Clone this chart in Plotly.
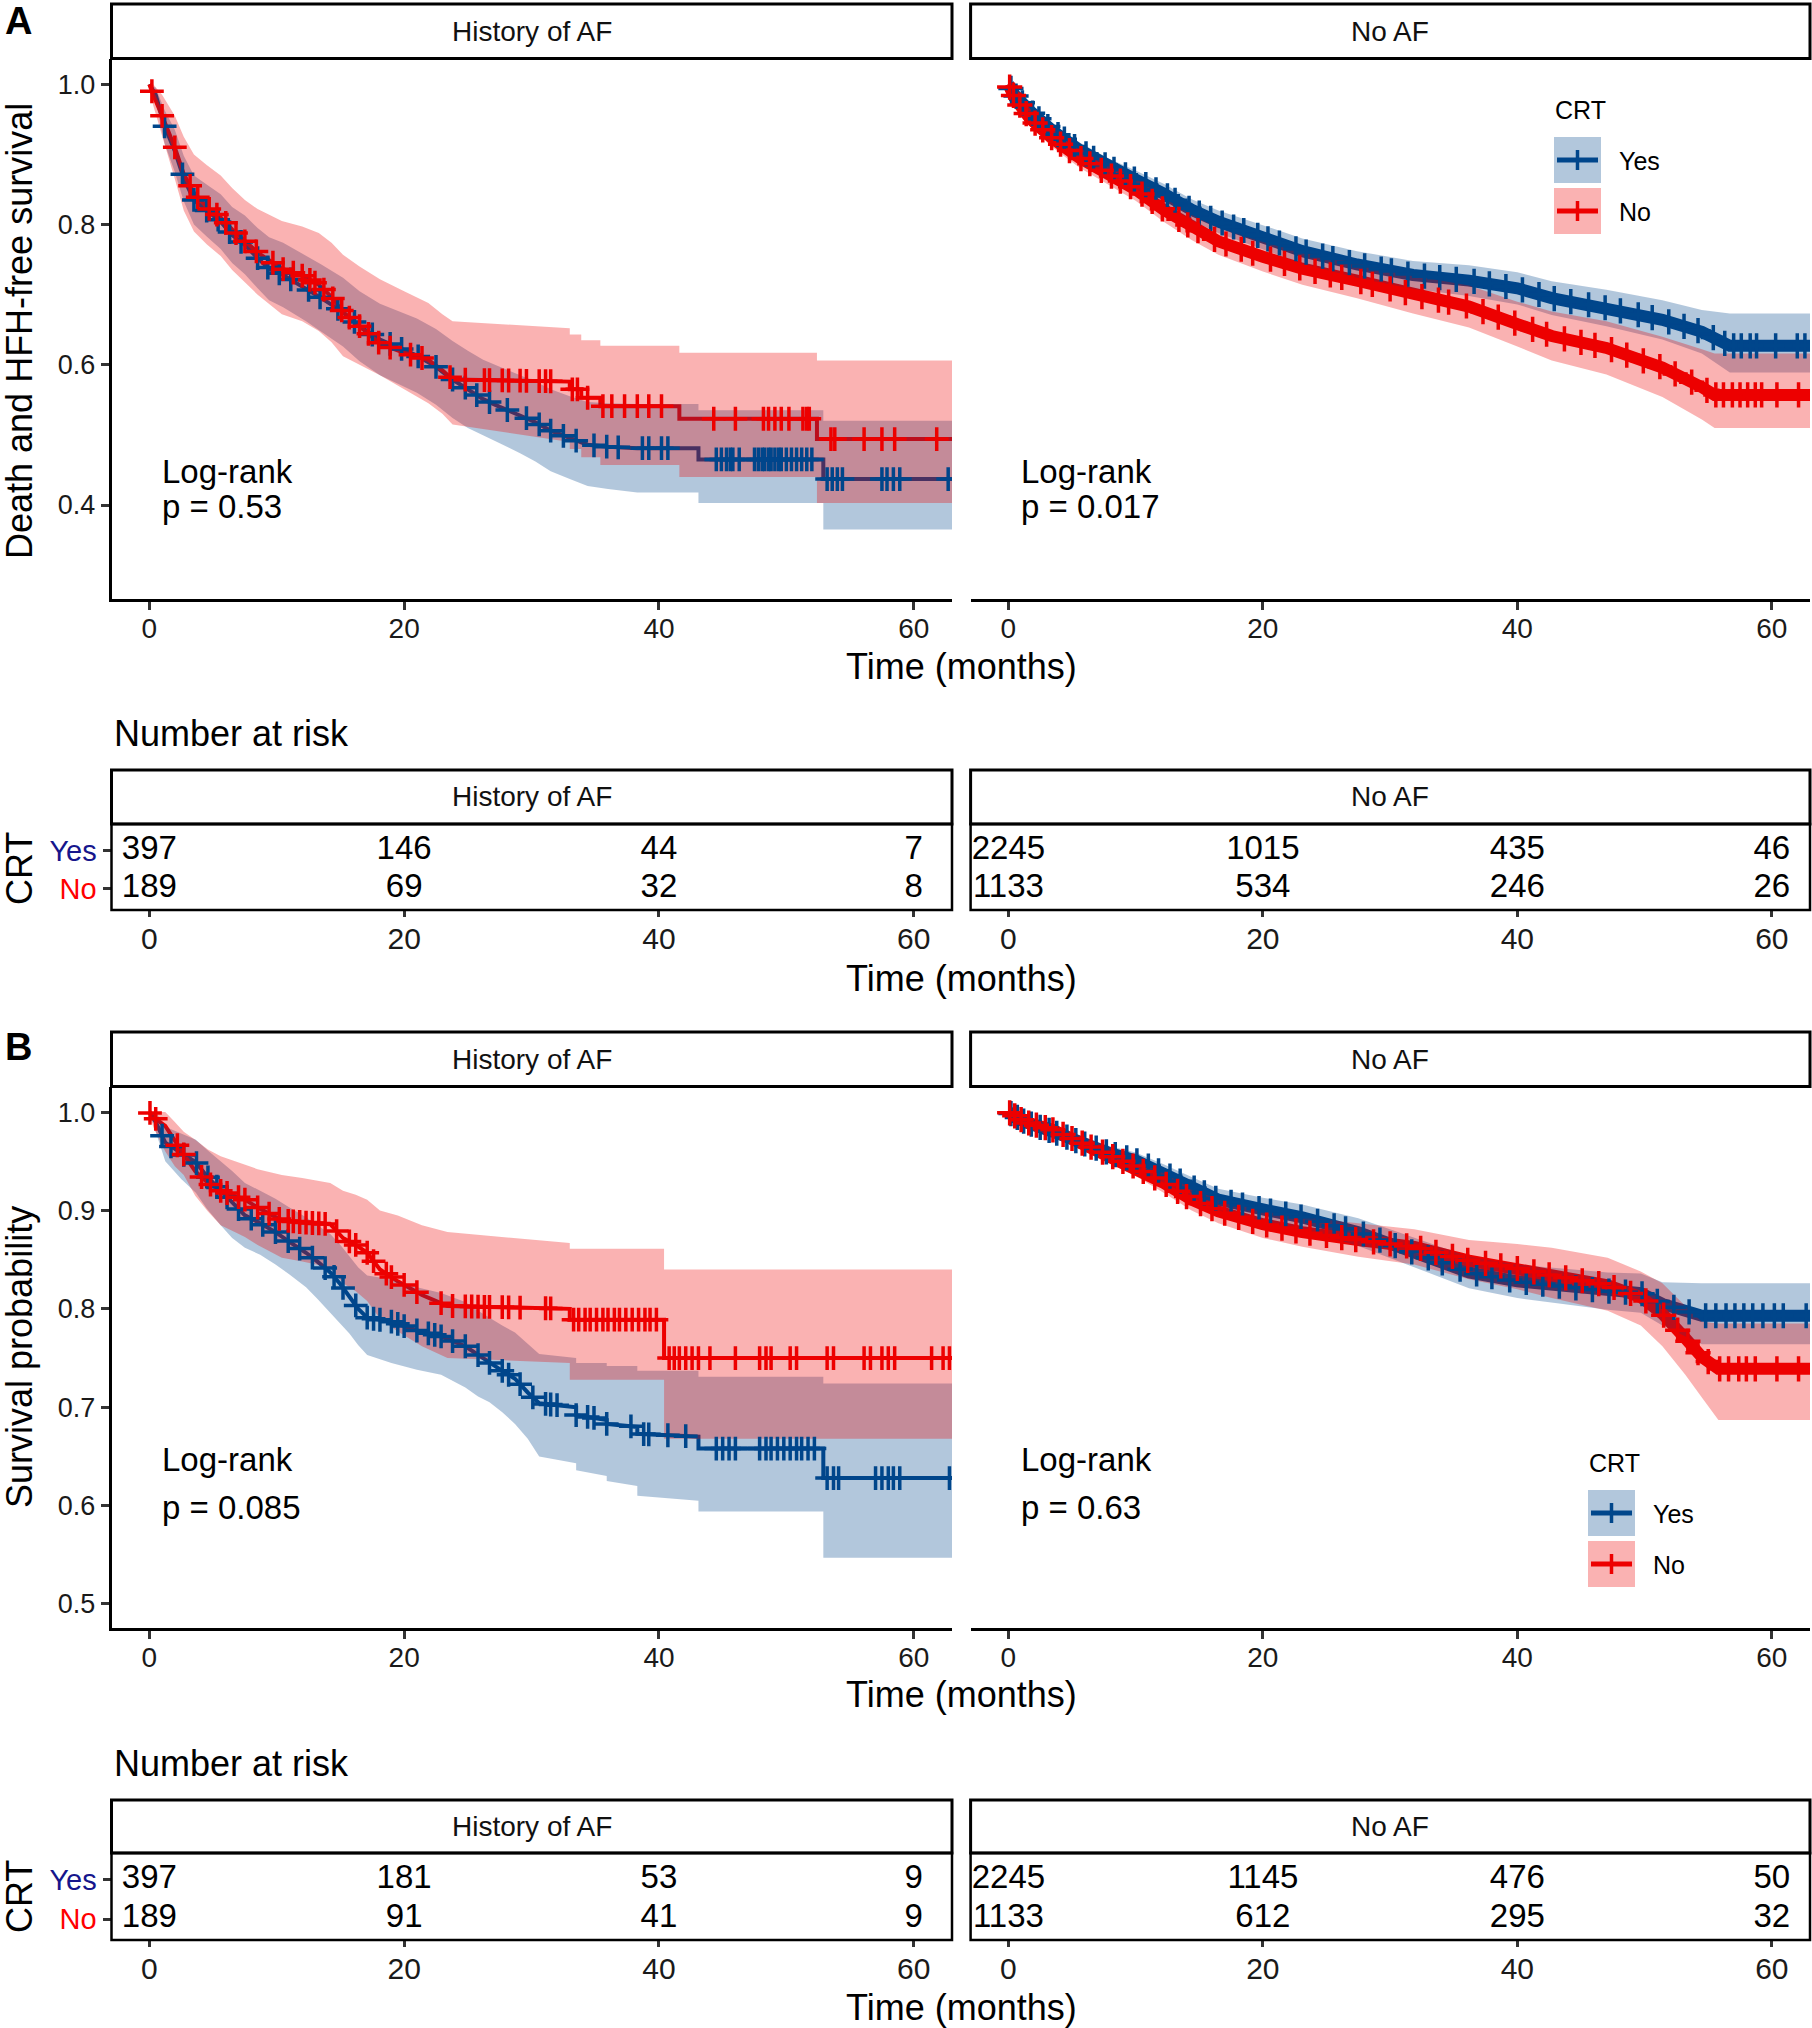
import numpy as np
import plotly.graph_objects as go

W, H = 1812, 2028
FONT = "Liberation Sans, Arial, sans-serif"
BLUE = "#00468B"
RED = "#ED0000"
BLUE_F = "rgba(0,70,139,0.3)"
RED_F = "rgba(237,0,0,0.3)"

# ---------------- DATA ----------------
facets = ["History of AF", "No AF"]
risk_times = [0, 20, 40, 60]
x_ticks = [0, 20, 40, 60]

# Panel A, History of AF -- CRT Yes
A_hist_yes_t = [0, 0.5, 1.2, 2, 2.7, 3.5, 4.5, 5.6, 6.5, 7.5, 8.5, 9.4, 10.5, 12.3, 13.5, 15.2, 16.5, 18.1, 19.5, 21,
                22.5, 23.8, 25, 26.2, 27.5, 29.1, 30.3, 31.5, 33, 34.4, 36, 38.3, 43.1, 43.1, 52.9, 52.9, 65]
A_hist_yes_s = [1.0, 0.985, 0.94, 0.905, 0.866, 0.835, 0.82, 0.804, 0.785, 0.771, 0.752, 0.737, 0.728, 0.709, 0.695,
                0.675, 0.655, 0.636, 0.625, 0.613, 0.597, 0.579, 0.565, 0.551, 0.54, 0.528, 0.518, 0.506, 0.495, 0.486,
                0.483, 0.481, 0.481, 0.465, 0.465, 0.437, 0.437]
A_hist_yes_lo = [1.0, 0.975, 0.915, 0.875, 0.833, 0.80, 0.783, 0.765, 0.745, 0.729, 0.709, 0.692, 0.682, 0.662, 0.647,
                 0.626, 0.605, 0.585, 0.573, 0.56, 0.543, 0.524, 0.51, 0.50, 0.488, 0.474, 0.462, 0.448, 0.437, 0.427,
                 0.423, 0.418, 0.418, 0.403, 0.403, 0.365, 0.365]
A_hist_yes_hi = [1.0, 0.995, 0.963, 0.935, 0.898, 0.87, 0.857, 0.843, 0.825, 0.813, 0.795, 0.782, 0.774, 0.756, 0.743,
                 0.724, 0.705, 0.687, 0.677, 0.666, 0.651, 0.634, 0.62, 0.607, 0.597, 0.585, 0.576, 0.565, 0.555, 0.547,
                 0.545, 0.544, 0.544, 0.535, 0.535, 0.52, 0.52]
A_hist_yes_cens = [1.2, 2.6, 3.5, 4.5, 5.4, 6.3, 7.2, 8.5, 9.3, 10.2, 11.1, 12.5, 13.4, 14.8, 16.1, 17.5, 18.9, 19.8,
                   21.1, 22.5, 23.8, 24.8, 25.7, 26.7, 28.1, 29.6, 30.6, 31.5, 32.5, 33.5, 34.9, 35.9, 36.8, 38.7, 39.2,
                   40.2, 40.7, 44.5, 44.9, 45.3, 45.6, 45.8, 46.3, 47.5, 47.8, 48.1, 48.3, 48.6, 48.8, 49.1, 49.4, 49.6,
                   50.0, 50.4, 50.8, 51.2, 51.6, 52.0, 53.2, 53.6, 54.0, 54.4, 57.5, 57.9, 58.4, 58.9, 62.7]

# Panel A, History of AF -- CRT No
A_hist_no_t = [0, 0.3, 1, 2, 2.7, 3.5, 4.5, 5.6, 6.5, 7.5, 8.5, 10.4, 12, 13.3, 14.3, 15.2, 16.5, 18.1, 20, 21.9, 23,
               23.8, 33.0, 33.0, 33.9, 33.9, 35.4, 35.4, 41.6, 41.6, 52.4, 52.4, 65]
A_hist_no_s = [1.0, 0.985, 0.955, 0.91, 0.872, 0.845, 0.825, 0.81, 0.793, 0.776, 0.76, 0.737, 0.727, 0.714, 0.697,
               0.675, 0.655, 0.63, 0.617, 0.607, 0.592, 0.579, 0.576, 0.565, 0.565, 0.553, 0.553, 0.541, 0.541, 0.523,
               0.523, 0.494, 0.494]
A_hist_no_hi = [1.0, 1.0, 0.985, 0.955, 0.925, 0.9, 0.885, 0.87, 0.852, 0.835, 0.822, 0.805, 0.797, 0.788, 0.774,
                0.757, 0.74, 0.722, 0.705, 0.688, 0.672, 0.662, 0.652, 0.643, 0.643, 0.635, 0.635, 0.627, 0.627, 0.617,
                0.617, 0.606, 0.606]
A_hist_no_lo = [1.0, 0.97, 0.925, 0.865, 0.82, 0.79, 0.772, 0.755, 0.735, 0.718, 0.70, 0.672, 0.662, 0.648, 0.632,
                0.612, 0.60, 0.585, 0.565, 0.545, 0.53, 0.515, 0.49, 0.48, 0.48, 0.468, 0.468, 0.457, 0.457, 0.44,
                0.44, 0.403, 0.403]
A_hist_no_cens = [0.2, 1.0, 2.0, 3.2, 3.8, 4.7, 5.3, 6.0, 6.8, 7.5, 8.4, 9.7, 10.5, 11.3, 12.0, 12.6, 13.0, 13.7, 14.4,
                  15.1, 15.7, 16.5, 17.2, 18.0, 18.9, 20.5, 21.4, 23.6, 24.8, 26.3, 26.7, 27.7, 28.2, 29.1, 29.6, 30.6,
                  31.1, 31.5, 33.2, 33.6, 34.4, 35.6, 36.3, 37.3, 38.3, 39.2, 40.2, 44.3, 46.0, 48.2, 48.6, 49.1, 49.6,
                  50.2, 51.3, 51.6, 51.8, 53.5, 53.8, 56.1, 57.5, 58.5, 61.8]

# Panel A, No AF -- CRT Yes
A_noaf_yes_t = [0, 0.5, 1.7, 3.45, 5.6, 7.8, 10, 12.2, 14.4, 16.5, 20, 23.1, 27.4, 31.8, 36.2, 40, 42.7, 47, 51.4,
                54.5, 56.7, 65]
A_noaf_yes_s = [1.0, 0.985, 0.962, 0.934, 0.906, 0.883, 0.864, 0.844, 0.821, 0.804, 0.782, 0.762, 0.743, 0.728, 0.72,
                0.709, 0.695, 0.681, 0.664, 0.647, 0.627, 0.627]
A_noaf_yes_lo = [1.0, 0.978, 0.953, 0.924, 0.895, 0.871, 0.851, 0.83, 0.806, 0.788, 0.765, 0.744, 0.724, 0.708,
                 0.698, 0.686, 0.671, 0.655, 0.636, 0.616, 0.589, 0.589]
A_noaf_yes_hi = [1.0, 0.992, 0.971, 0.944, 0.917, 0.895, 0.877, 0.858, 0.836, 0.82, 0.799, 0.78, 0.762, 0.748, 0.742,
                 0.732, 0.719, 0.707, 0.692, 0.678, 0.673, 0.673]
A_noaf_yes_cens = [0.2, 0.6, 1.1, 1.9, 2.4, 3.1, 3.9, 4.4, 5.2, 6.1, 6.7, 7.6, 8.3, 9.2, 9.9, 10.8, 11.6, 12.5, 13.1,
                   14.2, 15.0, 15.9, 16.8, 17.7, 18.5, 19.6, 20.4, 21.3, 22.6, 23.4, 24.7, 25.5, 26.8, 28.0, 29.3,
                   30.1, 31.4, 32.7, 33.9, 35.2, 36.6, 37.8, 39.1, 40.4, 41.7, 42.9, 44.2, 45.6, 46.9, 48.1, 49.5,
                   50.6, 51.9, 53.1, 54.2, 55.4, 56.3, 57.0, 57.6, 58.3, 58.8, 60.3, 62.0, 62.6]

# Panel A, No AF -- CRT No
A_noaf_no_t = [0, 0.5, 1.7, 3.45, 5.6, 7.8, 10, 12.2, 14.4, 16.5, 20, 23.1, 27.4, 31.8, 36.2, 40, 42.7, 47, 51.4,
               54.5, 55.5, 65]
A_noaf_no_s = [1.0, 0.98, 0.951, 0.923, 0.895, 0.872, 0.85, 0.821, 0.796, 0.776, 0.754, 0.737, 0.72, 0.70, 0.683,
               0.658, 0.641, 0.624, 0.596, 0.568, 0.557, 0.557]
A_noaf_no_lo = [1.0, 0.972, 0.94, 0.91, 0.881, 0.857, 0.834, 0.804, 0.778, 0.757, 0.733, 0.714, 0.695, 0.673, 0.653,
                0.626, 0.606, 0.586, 0.554, 0.522, 0.51, 0.51]
A_noaf_no_hi = [1.0, 0.988, 0.962, 0.936, 0.909, 0.887, 0.866, 0.838, 0.814, 0.795, 0.775, 0.76, 0.745, 0.727, 0.713,
                0.69, 0.676, 0.662, 0.64, 0.622, 0.616, 0.616]
A_noaf_no_cens = [0.1, 0.4, 0.9, 1.4, 2.1, 2.7, 3.4, 4.1, 4.8, 5.7, 6.4, 7.3, 8.1, 8.8, 9.6, 10.5, 11.3, 12.1, 13.4,
                  14.1, 14.9, 16.2, 17.1, 18.3, 19.2, 20.6, 21.7, 22.9, 24.1, 25.3, 26.2, 27.7, 28.6, 30.0, 31.2, 32.5,
                  33.8, 34.6, 36.0, 37.3, 38.5, 39.8, 41.2, 42.3, 43.7, 45.0, 46.1, 47.4, 48.6, 49.9, 51.2, 52.4,
                  53.7, 54.9, 55.6, 56.2, 56.9, 57.5, 58.1, 58.7, 59.2, 60.4, 62.1]

# Panel B, History of AF -- CRT Yes
B_hist_yes_t = [0, 0.5, 1.25, 2.5, 3.65, 4.5, 5.6, 6.5, 7.5, 8.7, 9.9, 11, 12.3, 13.2, 14.2, 15, 15.7, 16.4, 17.1, 19,
                21, 22.9, 24.8, 25.8, 26.7, 27.7, 28.7, 29.7, 30.6, 33.5, 33.5, 35.9, 35.9, 38.3, 38.3, 43.1, 43.1,
                52.9, 52.9, 65]
B_hist_yes_s = [1.0, 0.99, 0.969, 0.958, 0.949, 0.935, 0.92, 0.908, 0.895, 0.887, 0.878, 0.868, 0.857, 0.848, 0.837,
                0.825, 0.812, 0.80, 0.791, 0.787, 0.778, 0.772, 0.762, 0.753, 0.745, 0.737, 0.729, 0.715, 0.704, 0.70,
                0.692, 0.687, 0.683, 0.68, 0.673, 0.67, 0.658, 0.658, 0.628, 0.628]
B_hist_yes_lo = [1.0, 0.98, 0.95, 0.932, 0.918, 0.902, 0.885, 0.872, 0.862, 0.855, 0.845, 0.835, 0.822, 0.81, 0.796,
                 0.785, 0.775, 0.763, 0.753, 0.745, 0.738, 0.733, 0.72, 0.711, 0.705, 0.695, 0.683, 0.668, 0.65, 0.643,
                 0.636, 0.63, 0.625, 0.62, 0.61, 0.605, 0.594, 0.594, 0.547, 0.547]
B_hist_yes_hi = [1.0, 1.0, 0.985, 0.978, 0.972, 0.962, 0.95, 0.94, 0.928, 0.92, 0.912, 0.903, 0.893, 0.885, 0.876,
                 0.865, 0.853, 0.842, 0.834, 0.83, 0.822, 0.816, 0.807, 0.798, 0.791, 0.783, 0.776, 0.764, 0.754, 0.75,
                 0.745, 0.745, 0.742, 0.742, 0.737, 0.737, 0.731, 0.731, 0.724, 0.724]
B_hist_yes_cens = [1.0, 1.7, 2.7, 3.7, 4.6, 5.3, 6.1, 7.0, 8.0, 8.9, 9.9, 10.9, 11.8, 12.8, 13.8, 14.5, 15.2, 16.2,
                   17.1, 17.6, 18.1, 19.0, 19.5, 20.0, 21.0, 21.9, 22.4, 22.9, 23.8, 24.8, 25.8, 26.7, 27.7, 28.2,
                   29.1, 30.1, 31.1, 31.5, 32.0, 33.5, 34.4, 34.9, 35.9, 37.8, 38.8, 39.2, 40.7, 42.1, 44.5, 45.0,
                   45.5, 46.0, 47.9, 48.4, 48.8, 49.3, 49.8, 50.3, 50.8, 51.2, 51.7, 52.2, 53.2, 53.7, 54.1, 57.0,
                   57.5, 58.0, 58.4, 58.9, 62.8]

# Panel B, History of AF -- CRT No
B_hist_no_t = [0, 0.3, 1.25, 2, 2.7, 3.6, 4.6, 5.6, 6.7, 7.5, 8.5, 10.4, 12, 14.2, 15.2, 16.2, 17.1, 18.1, 19.5, 21.4,
               23.4, 33.0, 33.0, 40.4, 40.4, 65]
B_hist_no_s = [1.0, 0.995, 0.986, 0.97, 0.957, 0.94, 0.928, 0.92, 0.915, 0.911, 0.903, 0.89, 0.888, 0.886, 0.872,
               0.865, 0.857, 0.84, 0.828, 0.814, 0.803, 0.80, 0.789, 0.789, 0.75, 0.75]
B_hist_no_hi = [1.0, 1.0, 1.0, 0.99, 0.98, 0.972, 0.962, 0.955, 0.95, 0.947, 0.942, 0.936, 0.933, 0.928, 0.92, 0.916,
                0.911, 0.90, 0.895, 0.885, 0.878, 0.867, 0.861, 0.861, 0.84, 0.84]
B_hist_no_lo = [1.0, 0.985, 0.96, 0.945, 0.936, 0.915, 0.899, 0.885, 0.878, 0.873, 0.865, 0.852, 0.848, 0.842, 0.826,
                0.818, 0.808, 0.79, 0.777, 0.762, 0.75, 0.745, 0.728, 0.728, 0.668, 0.668]
B_hist_no_cens = [0.05, 0.5, 2.2, 2.7, 4.1, 4.8, 5.6, 6.1, 7.0, 7.5, 8.5, 9.4, 10.2, 10.9, 11.3, 11.8, 12.3, 12.8,
                  13.3, 13.8, 14.7, 15.7, 16.2, 17.1, 17.6, 18.6, 19.0, 20.0, 21.0, 22.9, 23.8, 24.8, 25.3, 25.8,
                  26.3, 26.7, 27.7, 28.2, 29.1, 31.1, 31.5, 33.3, 33.7, 34.2, 34.6, 35.1, 35.6, 36.0, 36.5, 36.9,
                  37.4, 37.9, 38.4, 38.9, 39.3, 39.8, 40.8, 41.2, 41.6, 42.1, 42.6, 43.1, 44.0, 46.0, 47.9, 48.4,
                  48.8, 50.3, 50.8, 53.2, 53.7, 56.1, 56.6, 57.5, 58.0, 58.5, 61.4, 62.3, 62.8]

# Panel B, No AF -- CRT Yes
B_noaf_yes_t = [0, 1.3, 3.5, 5.7, 7.8, 10, 12.2, 14.4, 16.5, 20, 23.1, 27.5, 31.9, 36.2, 40, 42.7, 47.1, 49.7, 51.4,
                54.5, 65]
B_noaf_yes_s = [1.0, 0.99, 0.98, 0.969, 0.959, 0.951, 0.938, 0.924, 0.911, 0.901, 0.893, 0.878, 0.857, 0.837, 0.828,
                0.824, 0.818, 0.816, 0.805, 0.793, 0.793]
B_noaf_yes_lo = [1.0, 0.986, 0.975, 0.963, 0.952, 0.943, 0.929, 0.914, 0.90, 0.889, 0.88, 0.864, 0.842, 0.821, 0.811,
                 0.806, 0.799, 0.796, 0.783, 0.764, 0.764]
B_noaf_yes_hi = [1.0, 0.994, 0.985, 0.975, 0.966, 0.959, 0.947, 0.934, 0.922, 0.913, 0.906, 0.892, 0.872, 0.853,
                 0.845, 0.842, 0.837, 0.836, 0.827, 0.826, 0.826]
B_noaf_yes_cens = [0.2, 0.7, 1.2, 1.8, 2.5, 3.2, 3.8, 4.6, 5.3, 6.0, 6.9, 7.7, 8.4, 9.3, 10.1, 11.0, 11.8, 12.7, 13.5,
                   14.6, 15.4, 16.3, 17.5, 18.4, 19.7, 20.6, 21.8, 23.0, 24.3, 25.6, 26.5, 27.9, 29.2, 30.4, 31.7,
                   33.0, 34.1, 35.5, 36.8, 38.0, 39.4, 40.7, 42.0, 43.3, 44.6, 45.9, 47.2, 48.5, 49.8, 51.0, 52.3,
                   53.5, 54.8, 55.6, 56.4, 57.1, 57.8, 58.5, 59.3, 60.2, 60.9, 62.7]

# Panel B, No AF -- CRT No
B_noaf_no_t = [0, 1.3, 3.5, 5.7, 7.8, 10, 12.2, 14.4, 16.5, 20, 23.1, 27.5, 31.9, 36.2, 40, 42.7, 47.1, 49.7, 51.4,
               53.2, 54.5, 55.8, 65]
B_noaf_no_s = [1.0, 0.99, 0.982, 0.969, 0.957, 0.944, 0.928, 0.911, 0.899, 0.886, 0.878, 0.87, 0.863, 0.849, 0.841,
               0.834, 0.824, 0.812, 0.795, 0.77, 0.751, 0.739, 0.739]
B_noaf_no_lo = [1.0, 0.985, 0.976, 0.962, 0.949, 0.935, 0.918, 0.90, 0.887, 0.872, 0.863, 0.853, 0.845, 0.83, 0.82,
                0.811, 0.798, 0.783, 0.762, 0.733, 0.71, 0.687, 0.687]
B_noaf_no_hi = [1.0, 0.995, 0.988, 0.976, 0.965, 0.953, 0.938, 0.922, 0.911, 0.90, 0.893, 0.887, 0.881, 0.87, 0.866,
                0.862, 0.852, 0.838, 0.826, 0.803, 0.787, 0.785, 0.785]
B_noaf_no_cens = [0.1, 0.5, 1.0, 1.6, 2.2, 2.9, 3.5, 4.3, 5.0, 5.8, 6.5, 7.4, 8.2, 9.0, 9.8, 10.6, 11.5, 12.4, 13.3,
                  14.0, 15.1, 16.0, 17.0, 18.1, 19.2, 20.3, 21.5, 22.6, 23.7, 25.0, 26.2, 27.3, 28.7, 30.0, 31.3,
                  32.4, 33.6, 34.9, 36.1, 37.5, 38.7, 40.0, 41.3, 42.5, 43.8, 45.1, 46.4, 47.6, 48.9, 50.1, 51.5,
                  52.6, 53.4, 54.2, 55.0, 55.9, 56.6, 57.4, 58.0, 58.7, 60.4, 62.1]

# Number at risk
risk_A_hist_yes = [397, 146, 44, 7]
risk_A_hist_no = [189, 69, 32, 8]
risk_A_noaf_yes = [2245, 1015, 435, 46]
risk_A_noaf_no = [1133, 534, 246, 26]
risk_B_hist_yes = [397, 181, 53, 9]
risk_B_hist_no = [189, 91, 41, 9]
risk_B_noaf_yes = [2245, 1145, 476, 50]
risk_B_noaf_no = [1133, 612, 295, 32]

logrank_p = {"A_hist": "p = 0.53", "A_noaf": "p = 0.017", "B_hist": "p = 0.085", "B_noaf": "p = 0.63"}

# ---------------- LAYOUT HELPERS ----------------
def PX(x):
    return x / W


def PY(y):
    return 1 - y / H


XL = (111.5, 952.0)    # left facet pixel span
XR = (970.6, 1810.0)   # right facet pixel span
XRANGE = [-2.97, 63.0]

fig = go.Figure()
layout = dict(width=W, height=H, margin=dict(l=0, r=0, t=0, b=0), paper_bgcolor="white", plot_bgcolor="white",
              showlegend=False, font=dict(family=FONT, color="black"))
shapes = []
annos = []


def add_axes(idx, xspan, yspan, yrange, show_y, ytickvals=None, yticktext=None, xshowline=True, ytickfont=27,
             xtickfont=28, xticklen=8):
    xa = "xaxis" if idx == 1 else f"xaxis{idx}"
    ya = "yaxis" if idx == 1 else f"yaxis{idx}"
    anchor_y = "y" if idx == 1 else f"y{idx}"
    anchor_x = "x" if idx == 1 else f"x{idx}"
    layout[xa] = dict(domain=[PX(xspan[0]), PX(xspan[1])], range=XRANGE, anchor=anchor_y, tickvals=x_ticks,
                      ticks="outside", ticklen=xticklen, tickwidth=2.5, tickcolor="#333333", showgrid=False,
                      zeroline=False, showline=xshowline, linecolor="black", linewidth=2.5,
                      tickfont=dict(size=xtickfont, color="#1a1a1a", family=FONT))
    yd = dict(domain=[PY(yspan[1]), PY(yspan[0])], range=yrange, anchor=anchor_x, showgrid=False, zeroline=False)
    if show_y:
        yd.update(ticks="outside", ticklen=8, tickwidth=2.5, tickcolor="#333333", showline=xshowline,
                  linecolor="black", linewidth=2.5, tickvals=ytickvals, ticktext=yticktext,
                  tickfont=dict(size=ytickfont, color="#1a1a1a", family=FONT))
    else:
        yd.update(showticklabels=False, ticks="", showline=False)
    layout[ya] = yd
    return anchor_x, anchor_y


def strip(xspan, y0, y1, label, size=28):
    shapes.append(dict(type="rect", xref="paper", yref="paper", x0=PX(xspan[0]), x1=PX(xspan[1]), y0=PY(y1),
                       y1=PY(y0), line=dict(color="black", width=3), fillcolor="white", layer="below"))
    annos.append(dict(x=PX((xspan[0] + xspan[1]) / 2), y=PY((y0 + y1) / 2), xref="paper", yref="paper", text=label,
                      showarrow=False, font=dict(size=size, family=FONT, color="#111111"), xanchor="center",
                      yanchor="middle"))


def text(x, y, s, size, xanchor="left", angle=0, bold=False, color="black"):
    annos.append(dict(x=PX(x), y=PY(y), xref="paper", yref="paper", text=(f"<b>{s}</b>" if bold else s),
                      showarrow=False, textangle=angle, font=dict(size=size, family=FONT, color=color),
                      xanchor=xanchor, yanchor="middle"))


def km(axes, curves, width, msize=17):
    xr, yr = axes
    # lines first
    for (t, s, lo, hi, cens, col, fcol) in curves:
        fig.add_trace(go.Scatter(x=t, y=s, mode="lines", line=dict(color=col, width=width), xaxis=xr, yaxis=yr,
                                 hoverinfo="skip"))
    # ribbons on top (alpha 0.3), like ggplot
    for (t, s, lo, hi, cens, col, fcol) in curves:
        fig.add_trace(go.Scatter(x=list(t) + list(t)[::-1], y=list(hi) + list(lo)[::-1], mode="lines",
                                 fill="toself", fillcolor=fcol, line=dict(width=0), xaxis=xr, yaxis=yr,
                                 hoverinfo="skip"))
    # censor marks
    for (t, s, lo, hi, cens, col, fcol) in curves:
        cy = np.interp(cens, t, s)
        fig.add_trace(go.Scatter(x=cens, y=cy, mode="markers", xaxis=xr, yaxis=yr, hoverinfo="skip",
                                 marker=dict(symbol="cross-thin", size=msize, color=col,
                                             line=dict(width=3.5, color=col))))


def risk(axes, yes, no):
    xr, yr = axes
    fig.add_trace(go.Scatter(x=risk_times, y=[1] * 4, mode="text", text=[str(v) for v in yes], xaxis=xr, yaxis=yr,
                             textfont=dict(size=33, family=FONT, color="black"), cliponaxis=False,
                             hoverinfo="skip"))
    fig.add_trace(go.Scatter(x=risk_times, y=[0] * 4, mode="text", text=[str(v) for v in no], xaxis=xr, yaxis=yr,
                             textfont=dict(size=33, family=FONT, color="black"), cliponaxis=False,
                             hoverinfo="skip"))


risk_ticktext = ["<span style='color:#FF0000'>No</span>", "<span style='color:#16168C'>Yes</span>"]

# ---------------- PANEL A ----------------
A_KM = (59.0, 599.0)
A_RANGE = [0.266, 1.036]
ax1 = add_axes(1, XL, A_KM, A_RANGE, True, [0.4, 0.6, 0.8, 1.0], ["0.4", "0.6", "0.8", "1.0"])
ax2 = add_axes(2, XR, A_KM, A_RANGE, False)
A_RT = (824.0, 910.0)
A_RT_RANGE = [-0.56, 1.70]
ax3 = add_axes(3, XL, A_RT, A_RT_RANGE, True, [0, 1], risk_ticktext, xshowline=False, ytickfont=29,
               xtickfont=30, xticklen=6)
ax4 = add_axes(4, XR, A_RT, A_RT_RANGE, False, xshowline=False, xtickfont=30, xticklen=6)

km(ax1, [(A_hist_yes_t, A_hist_yes_s, A_hist_yes_lo, A_hist_yes_hi, A_hist_yes_cens, BLUE, BLUE_F),
         (A_hist_no_t, A_hist_no_s, A_hist_no_lo, A_hist_no_hi, A_hist_no_cens, RED, RED_F)], 4)
km(ax2, [(A_noaf_yes_t, A_noaf_yes_s, A_noaf_yes_lo, A_noaf_yes_hi, A_noaf_yes_cens, BLUE, BLUE_F),
         (A_noaf_no_t, A_noaf_no_s, A_noaf_no_lo, A_noaf_no_hi, A_noaf_no_cens, RED, RED_F)], 12, 18)
risk(ax3, risk_A_hist_yes, risk_A_hist_no)
risk(ax4, risk_A_noaf_yes, risk_A_noaf_no)

strip(XL, 4, 58.5, facets[0])
strip(XR, 4, 58.5, facets[1])
strip(XL, 770, 824, facets[0])
strip(XR, 770, 824, facets[1])
for xs in (XL, XR):
    shapes.append(dict(type="rect", xref="paper", yref="paper", x0=PX(xs[0]), x1=PX(xs[1]), y0=PY(A_RT[1]),
                       y1=PY(A_RT[0]), line=dict(color="black", width=2.5), fillcolor="rgba(0,0,0,0)"))

text(18, 21, "A", 38, xanchor="center", bold=True)
text(19, 331, "Death and HFH-free survival", 36, xanchor="center", angle=-90)
text(961, 667, "Time (months)", 36, xanchor="center")
text(112, 734, "Number at risk", 36)
text(19, 869, "CRT", 36, xanchor="center", angle=-90)
text(961, 978, "Time (months)", 36, xanchor="center")
text(160, 471, "Log-rank", 33)
text(160, 506, logrank_p["A_hist"], 33)
text(1019, 471, "Log-rank", 33)
text(1019, 506, logrank_p["A_noaf"], 33)

# ---------------- PANEL B ----------------
B_KM = (1086.5, 1628.0)
B_RANGE = [0.4756, 1.026]
ax5 = add_axes(5, XL, B_KM, B_RANGE, True, [0.5, 0.6, 0.7, 0.8, 0.9, 1.0], ["0.5", "0.6", "0.7", "0.8", "0.9", "1.0"])
ax6 = add_axes(6, XR, B_KM, B_RANGE, False)
B_RT = (1853.0, 1940.0)
B_RT_RANGE = [-0.53, 1.67]
ax7 = add_axes(7, XL, B_RT, B_RT_RANGE, True, [0, 1], risk_ticktext, xshowline=False, ytickfont=29,
               xtickfont=30, xticklen=6)
ax8 = add_axes(8, XR, B_RT, B_RT_RANGE, False, xshowline=False, xtickfont=30, xticklen=6)

km(ax5, [(B_hist_yes_t, B_hist_yes_s, B_hist_yes_lo, B_hist_yes_hi, B_hist_yes_cens, BLUE, BLUE_F),
         (B_hist_no_t, B_hist_no_s, B_hist_no_lo, B_hist_no_hi, B_hist_no_cens, RED, RED_F)], 4)
km(ax6, [(B_noaf_yes_t, B_noaf_yes_s, B_noaf_yes_lo, B_noaf_yes_hi, B_noaf_yes_cens, BLUE, BLUE_F),
         (B_noaf_no_t, B_noaf_no_s, B_noaf_no_lo, B_noaf_no_hi, B_noaf_no_cens, RED, RED_F)], 12, 18)
risk(ax7, risk_B_hist_yes, risk_B_hist_no)
risk(ax8, risk_B_noaf_yes, risk_B_noaf_no)

strip(XL, 1032, 1086.5, facets[0])
strip(XR, 1032, 1086.5, facets[1])
strip(XL, 1800, 1853, facets[0])
strip(XR, 1800, 1853, facets[1])
for xs in (XL, XR):
    shapes.append(dict(type="rect", xref="paper", yref="paper", x0=PX(xs[0]), x1=PX(xs[1]), y0=PY(B_RT[1]),
                       y1=PY(B_RT[0]), line=dict(color="black", width=2.5), fillcolor="rgba(0,0,0,0)"))

text(18, 1047, "B", 38, xanchor="center", bold=True)
text(19, 1357, "Survival probability", 36, xanchor="center", angle=-90)
text(961, 1694, "Time (months)", 36, xanchor="center")
text(112, 1763, "Number at risk", 36)
text(19, 1897, "CRT", 36, xanchor="center", angle=-90)
text(961, 2007, "Time (months)", 36, xanchor="center")
text(160, 1459, "Log-rank", 33)
text(160, 1507, logrank_p["B_hist"], 33)
text(1019, 1459, "Log-rank", 33)
text(1019, 1507, logrank_p["B_noaf"], 33)


# ---------------- LEGENDS (manual, ggplot-style keys) ----------------
def legend(x0, y0):
    text(x0 - 1, y0, "CRT", 25)
    for i, (lab, col, fcol) in enumerate([("Yes", BLUE, BLUE_F), ("No", RED, RED_F)]):
        top = y0 + 27 + i * 51
        shapes.append(dict(type="rect", xref="paper", yref="paper", x0=PX(x0), x1=PX(x0 + 47), y0=PY(top + 46),
                           y1=PY(top), line=dict(width=0), fillcolor=fcol))
        cy = top + 23
        shapes.append(dict(type="line", xref="paper", yref="paper", x0=PX(x0 + 3), x1=PX(x0 + 44), y0=PY(cy),
                           y1=PY(cy), line=dict(color=col, width=5)))
        shapes.append(dict(type="line", xref="paper", yref="paper", x0=PX(x0 + 23.5), x1=PX(x0 + 23.5),
                           y0=PY(cy - 10), y1=PY(cy + 10), line=dict(color=col, width=3.5)))
        text(x0 + 63, cy + 1, lab, 25)


legend(1554, 110)
legend(1588, 1463)

layout["shapes"] = shapes
layout["annotations"] = annos
fig.update_layout(**layout)

# pull tick labels slightly closer to their axes (ggplot spacing)
try:
    for k in ("xaxis", "xaxis2", "xaxis5", "xaxis6"):
        fig.layout[k].ticklabelstandoff = -5
    for k in ("xaxis3", "xaxis4", "xaxis7", "xaxis8"):
        fig.layout[k].ticklabelstandoff = -4
except Exception:
    pass

fig.write_html("out.html", config={"displayModeBar": False},
               post_script="document.body.style.margin='0';")
